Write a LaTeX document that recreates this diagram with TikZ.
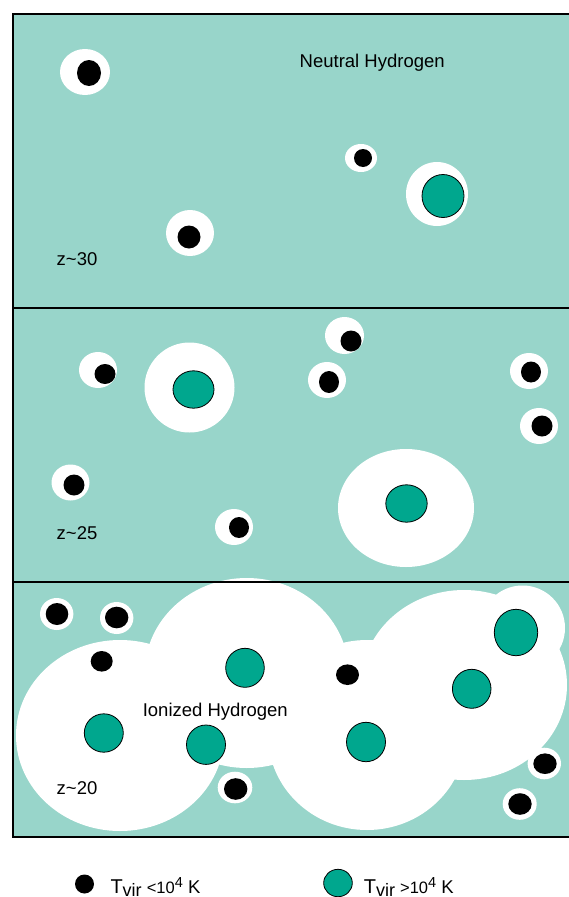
\documentclass[tikz,border=0pt]{standalone}
\usepackage{fontspec}
\setmainfont{Liberation Sans}
\definecolor{neutralgas}{HTML}{98D5CA}
\definecolor{hotgreen}{HTML}{00A78E}
\newcommand{\tvir}{{\fontsize{20}{20}\selectfont T}\raisebox{-3.5pt}{\fontsize{18}{18}\selectfont vir}}
\newcommand{\tenfour}{{\fontsize{16.5}{18}\selectfont 10\raisebox{5.5pt}{\fontsize{14.5}{15}\selectfont 4}}}
\tikzset{
  ionized/.style={fill=white},
  coolhalo/.style={fill=black},
  hothalo/.style={fill=hotgreen, draw=black, line width=0.8pt},
  panelline/.style={draw=black, line width=2pt},
  label/.style={font=\fontsize{18.5}{20}\selectfont, inner sep=0pt, anchor=base west},
}
\begin{document}
\begin{tikzpicture}[x=1pt, y=-1pt]
  \useasboundingbox (0,0) rectangle (569,897);
  \clip (0,0) rectangle (569,897);
  \fill[neutralgas] (13,14) rectangle (580,837);

  % z~30
  \fill[ionized] (85,72) ellipse [x radius=25, y radius=23];
  \fill[coolhalo] (89,73) ellipse [x radius=12, y radius=13];
  \fill[ionized] (361,158) ellipse [x radius=16, y radius=14];
  \fill[coolhalo] (363,158) ellipse [x radius=9, y radius=9];
  \fill[ionized] (437,194) ellipse [x radius=31, y radius=32];
  \draw[hothalo] (443,196) ellipse [x radius=21, y radius=21.5];
  \fill[ionized] (190,233) ellipse [x radius=24, y radius=23];
  \fill[coolhalo] (189,237) ellipse [x radius=11.5, y radius=11.5];
  \node[label] (neutral) at (299.5,67.3) {Neutral Hydrogen};
  \node[label] (z30) at (56.5,265) {z\char`~30};

  % z~25
  \fill[ionized] (98,370) ellipse [x radius=19, y radius=18];
  \fill[coolhalo] (105,374) ellipse [x radius=10.5, y radius=10];
  \fill[ionized] (189.5,387.5) ellipse [x radius=45, y radius=45];
  \draw[hothalo] (193.5,389.5) ellipse [x radius=20.5, y radius=18.7];
  \fill[ionized] (344.5,335.5) ellipse [x radius=19.5, y radius=18.5];
  \fill[coolhalo] (351,341) ellipse [x radius=10.5, y radius=10.5];
  \fill[ionized] (327,380) ellipse [x radius=19, y radius=18];
  \fill[coolhalo] (329,382) ellipse [x radius=10, y radius=11];
  \fill[ionized] (529,371) ellipse [x radius=19, y radius=18];
  \fill[coolhalo] (531,372) ellipse [x radius=10, y radius=10.5];
  \fill[ionized] (539,426) ellipse [x radius=19, y radius=18];
  \fill[coolhalo] (542,426) ellipse [x radius=10.5, y radius=10.5];
  \fill[ionized] (70.5,482.5) ellipse [x radius=19, y radius=18];
  \fill[coolhalo] (74,485) ellipse [x radius=10.5, y radius=10.5];
  \fill[ionized] (234,527) ellipse [x radius=19, y radius=18];
  \fill[coolhalo] (239,527.5) ellipse [x radius=10, y radius=10.5];
  \fill[ionized] (406,508) ellipse [x radius=68, y radius=59];
  \draw[hothalo] (406.5,503.5) ellipse [x radius=20.7, y radius=18.7];
  \node[label] (z25) at (56.5,539.3) {z\char`~25};

  % z~20, overlapping bubbles
  \fill[ionized] (120,735.5) ellipse [x radius=104, y radius=95.5];
  \fill[ionized] (246.7,673) ellipse [x radius=102, y radius=95];
  \fill[ionized] (367,735) ellipse [x radius=99, y radius=95];
  \fill[ionized] (464,685) ellipse [x radius=103, y radius=95];
  \fill[ionized] (522.5,628) ellipse [x radius=42.5, y radius=42.5];
  \fill[ionized] (56.7,614) ellipse [x radius=16.7, y radius=16];
  \fill[coolhalo] (57,614) ellipse [x radius=11.3, y radius=11];
  \fill[ionized] (116.7,618) ellipse [x radius=16.7, y radius=16];
  \fill[coolhalo] (116.7,617.5) ellipse [x radius=11.7, y radius=10.8];
  \fill[coolhalo] (101.7,661.3) ellipse [x radius=11, y radius=10.3];
  \fill[coolhalo] (347.5,674.7) ellipse [x radius=11.5, y radius=10.3];
  \fill[ionized] (235,787.5) ellipse [x radius=17.3, y radius=15.8];
  \fill[coolhalo] (235.7,789) ellipse [x radius=11.7, y radius=10.8];
  \fill[ionized] (544.3,763.5) ellipse [x radius=16.7, y radius=15.8];
  \fill[coolhalo] (545,763.7) ellipse [x radius=11.7, y radius=10.3];
  \fill[ionized] (519.7,804) ellipse [x radius=17, y radius=15.8];
  \fill[coolhalo] (520,804) ellipse [x radius=11.7, y radius=10.8];
  \draw[hothalo] (103.8,733) ellipse [x radius=19.5, y radius=19.2];
  \draw[hothalo] (206,744.7) ellipse [x radius=19.5, y radius=19.7];
  \draw[hothalo] (245,667.8) ellipse [x radius=19.3, y radius=19.5];
  \draw[hothalo] (366,742) ellipse [x radius=19.5, y radius=19.7];
  \draw[hothalo] (471.7,688.8) ellipse [x radius=19.3, y radius=19.5];
  \draw[hothalo] (516,632.5) ellipse [x radius=21.7, y radius=23.2];
  \node[label] (ionizedtext) at (142.6,716.7) {Ionized Hydrogen};
  \node[label] (z20) at (56.5,794) {z\char`~20};

  % panel frame
  \draw[panelline] (13,14) -- (580,14);
  \draw[panelline] (13,308) -- (580,308);
  \draw[panelline] (13,581.5) -- (580,581.5);
  \draw[panelline] (13,837) -- (580,837);
  \draw[panelline] (13,13) -- (13,838);

  % legend
  \fill[coolhalo] (84.5,884) ellipse [x radius=9.5, y radius=9.5];
  \node[label] (legcool) at (110.3,893.3) {\tvir\ {\fontsize{16.5}{18}\selectfont <}\tenfour\ K};
  \draw[hothalo] (338,883) ellipse [x radius=14.3, y radius=13.7];
  \node[label] (leghot) at (363.6,893.3) {\tvir\ {\fontsize{16.5}{18}\selectfont >}\tenfour\ K};
\end{tikzpicture}
\end{document}
